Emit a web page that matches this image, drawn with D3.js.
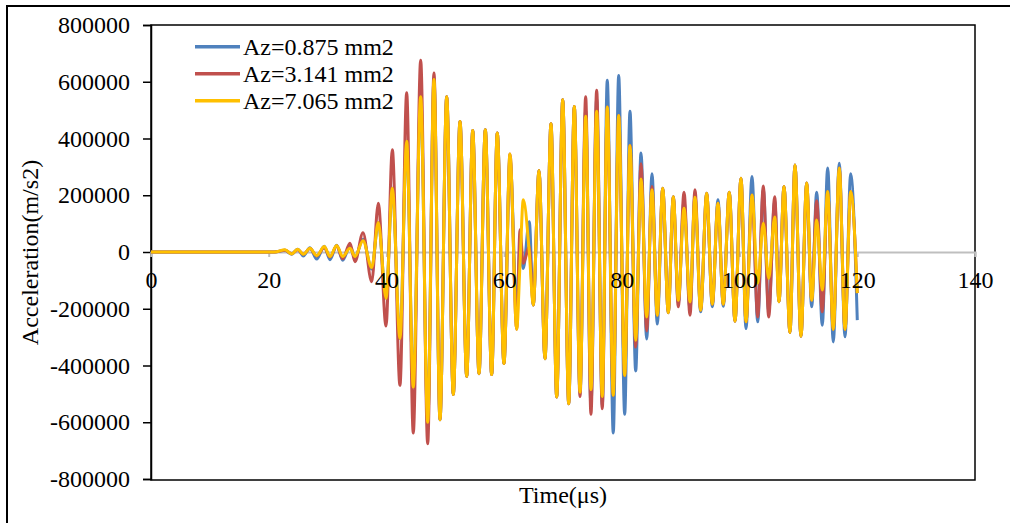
<!DOCTYPE html>
<html>
<head>
<meta charset="utf-8">
<script src="https://cdn.jsdelivr.net/npm/d3@7"></script>
<style>
  html, body { margin: 0; padding: 0; background: #ffffff; }
  svg { display: block; }
  text { font-family: "Liberation Serif", "Times New Roman", serif; fill: #000; }
</style>
</head>
<body>
<svg id="chart" width="1010" height="523"></svg>
<script>
// ---- data ----
const seriesNames = ["Az=0.875 mm2", "Az=3.141 mm2", "Az=7.065 mm2"];
const seriesColors = ["#4F81BD", "#C0504D", "#FFC000"];
const xTicks = [0, 20, 40, 60, 80, 100, 120, 140];
const yTicks = [-800000, -600000, -400000, -200000, 0, 200000, 400000, 600000, 800000];

// time of each extremum (µs)
const times = [0, 21.0, 22.77, 23.9, 24.92, 25.88, 27.01, 28.15, 29.44, 30.41, 31.55, 32.57, 33.81, 34.66, 36.02, 37.5,
  38.62, 39.93, 41.0, 42.3, 43.44, 44.56, 45.82, 47.01, 48.08, 49.1, 50.24, 51.36, 52.5, 53.64, 54.66, 55.73,
  56.8, 57.88, 58.83, 59.97, 60.99, 62.13, 62.7, 63.25, 64.27, 64.95, 65.92, 66.94, 67.96, 68.93, 69.95, 70.97,
  71.92, 72.89, 73.85, 74.75, 75.72, 76.67, 77.52, 78.54, 79.46, 80.48, 81.38, 82.35, 83.25, 84.22, 85.12, 86.02,
  86.94, 87.89, 88.74, 89.59, 90.56, 91.58, 92.42, 93.39, 94.41, 95.37, 96.33, 97.23, 98.25, 99.22, 100.24, 101.09,
  102.11, 103.08, 104.03, 104.95, 105.97, 106.7, 107.55, 108.56, 109.41, 110.43, 111.4, 112.25, 113.1, 114.05,
  114.97, 115.92, 116.94, 117.91, 118.88, 120.0];

const blueValues = [0, 0, 6000, -8000, 10000, -14000, 15000, -25000, 20000, -27000, 24000, -29000, 20000, -20000, 45000, -60000,
  104000, -163000, 225000, -305000, 390000, -476000, 547000, -600000, 608000, -591000, 547000, -502000, 460000, -438000, 428000, -429000,
  431000, -432000, 419000, -393000, 330000, -200000, 20000, -58000, 107000, -187000, 287000, -376000, 452000, -511000, 537000, -535000,
  513000, -494000, 500000, -540000, 540000, -540000, 605000, -638000, 622000, -572000, 496000, -419000, 349000, -307000, 276000, -254000,
  225000, -214000, 195000, -180000, 180000, -200000, 200000, -211000, 207000, -193000, 184000, -191000, 211000, -244000, 260000, -270000,
  266000, -246000, 220000, -210000, 180000, -175000, 231000, -284000, 307000, -297000, 243000, -193000, 211000, -258000,
  296000, -317000, 313000, -299000, 276000, -240000];

const redValues = [0, 0, 6000, -6000, 8000, -8000, 12000, -14000, 16000, -18000, 22000, -24000, 31000, -34000, 68000, -105000,
  172000, -261000, 360000, -470000, 561000, -638000, 676000, -676000, 631000, -591000, 547000, -502000, 460000, -438000, 428000, -429000,
  431000, -432000, 419000, -393000, 345000, -272000, 78000, -40000, 20000, -187000, 287000, -376000, 452000, -511000, 537000, -535000,
  513000, -509000, 547000, -572000, 570000, -552000, 511000, -505000, 481000, -435000, 375000, -335000, 311000, -278000, 231000, -223000,
  225000, -214000, 195000, -193000, 211000, -223000, 219000, -205000, 207000, -184000, 172000, -184000, 211000, -244000, 260000, -246000,
  201000, -229000, 233000, -229000, 195000, -175000, 231000, -284000, 307000, -297000, 243000, -170000, 181000, -211000,
  213000, -273000, 296000, -273000, 213000, -145000];

const yellowValues = [0, 0, 8000, -7000, 10000, -8000, 13000, -13000, 19000, -16000, 23000, -16000, 13000, -16000, 40000, -55000,
  104000, -163000, 225000, -305000, 390000, -476000, 547000, -600000, 608000, -591000, 547000, -502000, 460000, -438000, 428000, -429000,
  431000, -432000, 419000, -393000, 345000, -272000, -40000, 184000, 0, -187000, 287000, -376000, 452000, -511000, 537000, -535000,
  513000, -494000, 478000, -485000, 496000, -509000, 511000, -505000, 481000, -435000, 375000, -311000, 257000, -229000, 219000, -223000,
  225000, -214000, 195000, -170000, 154000, -176000, 193000, -205000, 207000, -184000, 172000, -184000, 211000, -244000, 260000, -246000,
  201000, -110000, 101000, -93000, 123000, -175000, 231000, -284000, 307000, -297000, 243000, -170000, 113000, -134000,
  213000, -273000, 296000, -273000, 213000, -145000];

const seriesValues = [blueValues, redValues, yellowValues];

// ---- layout ----
const svg = d3.select("#chart");
const plot = { left: 151, right: 975, top: 25, bottom: 480 };
const x = d3.scaleLinear().domain([0, 140]).range([plot.left, plot.right]);
const y = d3.scaleLinear().domain([-800000, 800000]).range([plot.bottom - 1, plot.top]);
const FONT = 24;
const fmt = d => String(d);

// outer frame
svg.append("rect").attr("x", 7).attr("y", 6).attr("width", 1030).attr("height", 540)
  .attr("fill", "none").attr("stroke", "#000").attr("stroke-width", 2);

// plot border
svg.append("rect").attr("x", plot.left).attr("y", plot.top)
  .attr("width", plot.right - plot.left).attr("height", plot.bottom - plot.top)
  .attr("fill", "none").attr("stroke", "#000").attr("stroke-width", 1.5);

// y axis
const yAxis = d3.axisLeft(y).tickValues(yTicks).tickSize(8).tickPadding(13).tickFormat(fmt);
const gy = svg.append("g").attr("transform", `translate(${plot.left},0)`).call(yAxis);
gy.select(".domain").attr("stroke", "#000").attr("stroke-width", 1.5);
gy.selectAll(".tick line").attr("stroke", "#000").attr("stroke-width", 1.5);
gy.selectAll(".tick text").style("font-size", FONT + "px").style("font-family", "Liberation Serif, Times New Roman, serif").attr("fill", "#000");

// x axis line and ticks at zero (beneath the series)
const gx = svg.append("g").attr("transform", `translate(0,${y(0)})`)
  .call(d3.axisBottom(x).tickValues(xTicks).tickSize(5).tickFormat(""));
gx.select(".domain").attr("stroke", "#BFBFBF").attr("stroke-width", 2);
gx.selectAll(".tick line").attr("stroke", "#BFBFBF").attr("stroke-width", 2);

// series
const line = d3.line().x(d => x(d[0])).y(d => y(d[1])).curve(d3.curveMonotoneX);
seriesValues.forEach((vals, i) => {
  svg.append("path")
    .datum(times.map((t, k) => [t, vals[k]]))
    .attr("fill", "none")
    .attr("stroke", seriesColors[i])
    .attr("stroke-width", 3)
    .attr("stroke-linejoin", "round")
    .attr("d", line);
});

// x tick labels on top of the series
const gxl = svg.append("g").attr("transform", `translate(0,${y(0)})`)
  .call(d3.axisBottom(x).tickValues(xTicks).tickSize(5).tickPadding(14).tickFormat(fmt));
gxl.select(".domain").remove();
gxl.selectAll(".tick line").remove();
gxl.selectAll(".tick text").style("font-size", FONT + "px").style("font-family", "Liberation Serif, Times New Roman, serif").attr("fill", "#000");

// axis titles
svg.append("text").attr("x", (plot.left + plot.right) / 2).attr("y", 503)
  .attr("text-anchor", "middle").style("font-size", FONT + "px").text("Time(μs)");
svg.append("text").attr("transform", `translate(38,${(plot.top + plot.bottom) / 2}) rotate(-90)`)
  .attr("text-anchor", "middle").style("font-size", FONT + "px").text("Acceleration(m/s2)");

// legend
const legend = svg.append("g");
seriesNames.forEach((name, i) => {
  const ly = 46.7 + i * 27;
  legend.append("line").attr("x1", 195).attr("x2", 240).attr("y1", ly).attr("y2", ly)
    .attr("stroke", seriesColors[i]).attr("stroke-width", 3.5);
  legend.append("text").attr("x", 243).attr("y", ly + 8.3).style("font-size", FONT + "px").text(name);
});
</script>
</body>
</html>
